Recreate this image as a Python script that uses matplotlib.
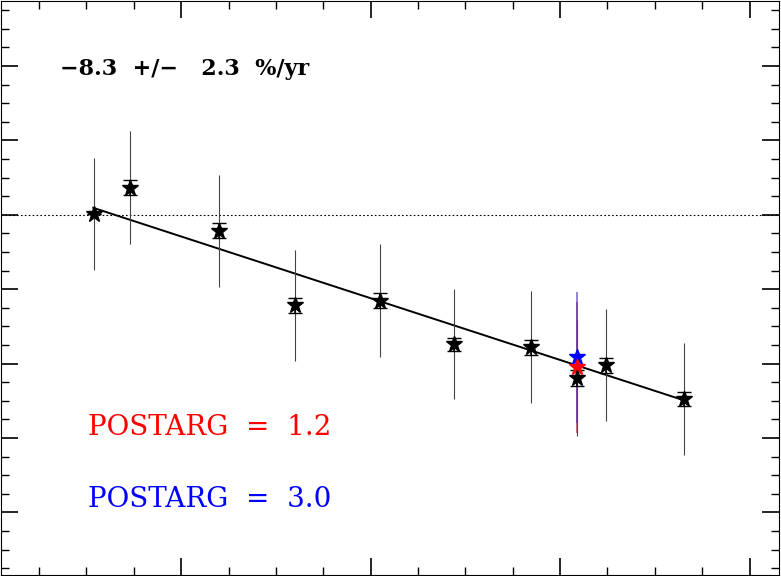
import numpy as np
import matplotlib.pyplot as plt
from matplotlib.ticker import MultipleLocator

# epoch (yr) and change (%) with errors
t = [-0.229, -0.134, 0.100, 0.300, 0.526, 0.721, 0.924, 1.045, 1.121, 1.326]
dy = [0.07, 1.81, -1.07, -6.09, -5.76, -8.70, -8.90, -10.98, -10.10, -12.38]
err_big = [3.75, 3.8, 3.75, 3.75, 3.8, 3.7, 3.75, 3.9, 3.75, 3.75]
err_small = [0.0, 0.5, 0.5, 0.5, 0.5, 0.45, 0.5, 0.55, 0.5, 0.5]

t_red, dy_red, err_red = 1.045, -10.24, 4.4
t_blue, dy_blue, err_blue = 1.045, -9.57, 4.4

slope = -8.3
t0, y0 = -0.232, 0.47
fit_t = [-0.232, 1.326]

fig = plt.figure(figsize=(7.81, 5.76), dpi=100)
ax = fig.add_axes([0.001, 0.002, 0.997, 0.997])

ax.axhline(0, color='black', lw=0.8, ls=(0, (1.5, 2)))
ft = np.array(fit_t)
ax.plot(ft, y0 + slope * (ft - t0), color='black', lw=1.4)

ax.errorbar(t, dy, yerr=err_big, fmt='none', ecolor='#444444', elinewidth=0.8)
ax.errorbar(t_red, dy_red, yerr=err_red, fmt='none', ecolor='#a03040', elinewidth=1.2, alpha=0.8)
ax.errorbar(t_blue, dy_blue, yerr=err_blue, fmt='none', ecolor='#5030c0', elinewidth=1.2, alpha=0.7)
ax.errorbar(t, dy, yerr=err_small, fmt='*', color='black', ms=12, capsize=5, elinewidth=1.2)
ax.plot(t_blue, dy_blue, '*', color='blue', ms=12)
ax.plot(t_red, dy_red, '*', color='red', ms=12)

ax.set_xlim(-0.476, 1.579)
ax.set_ylim(-24.2, 14.4)
ax.xaxis.set_major_locator(MultipleLocator(0.5))
ax.xaxis.set_minor_locator(MultipleLocator(0.125))
ax.yaxis.set_major_locator(MultipleLocator(5))
ax.yaxis.set_minor_locator(MultipleLocator(1.25))
ax.tick_params(which='both', direction='in', top=True, right=True,
               labelbottom=False, labelleft=False)
ax.tick_params(which='major', length=12, width=1.2)
ax.tick_params(which='minor', length=6, width=1)

ax.text(0.076, 0.88, '\u22128.3  +/\u2212   2.3  %/yr', transform=ax.transAxes,
        fontsize=16, fontweight='bold', family='DejaVu Serif', va='center')
ax.text(0.112, 0.257, 'POSTARG  =  1.2', transform=ax.transAxes, color='red',
        fontsize=20, family='DejaVu Serif', va='center')
ax.text(0.112, 0.132, 'POSTARG  =  3.0', transform=ax.transAxes, color='blue',
        fontsize=20, family='DejaVu Serif', va='center')

fig.savefig('out.png', dpi=100)
